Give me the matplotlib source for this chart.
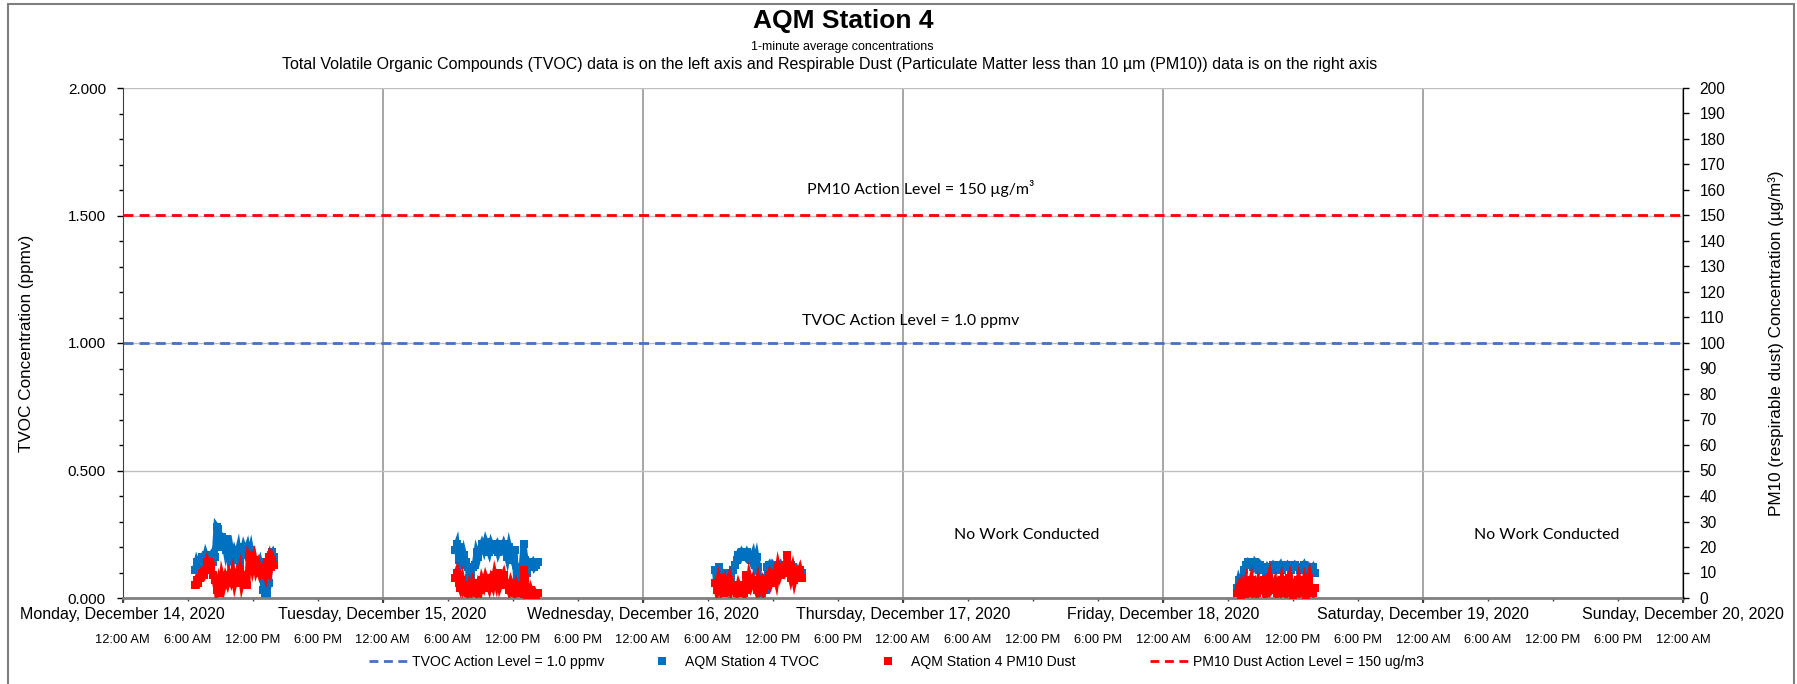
import matplotlib
matplotlib.use("Agg")
import matplotlib.pyplot as plt
from matplotlib.ticker import MultipleLocator, FixedLocator, FuncFormatter
from matplotlib.lines import Line2D
from matplotlib.patches import Rectangle

# ---- data ----
day_labels = ["Monday, December 14, 2020", "Tuesday, December 15, 2020",
              "Wednesday, December 16, 2020", "Thursday, December 17, 2020",
              "Friday, December 18, 2020", "Saturday, December 19, 2020",
              "Sunday, December 20, 2020"]
time_labels = ["12:00 AM", "6:00 AM", "12:00 PM", "6:00 PM"]

tvoc_action = 1.0     # ppmv
pm10_action = 150     # ug/m3

# 10-minute readings, one block per work day: (day index, start hour)
mon_start = (0, 6 + 40 / 60)
mon_tvoc = [0.11, 0.14, 0.12, 0.15, 0.16, 0.14, 0.17, 0.15, 0.16, 0.17, 0.14, 0.16,
            0.28, 0.27, 0.20, 0.24, 0.23, 0.19, 0.23, 0.16, 0.19, 0.15, 0.18, 0.16,
            0.19, 0.14, 0.17, 0.20, 0.18, 0.20, 0.16, 0.19, 0.15, 0.13, 0.14, 0.12,
            0.14, 0.11, 0.03, 0.00, 0.01, 0.06, 0.17, 0.18, 0.16]
mon_pm10 = [5, 7, 6, 8, 10, 9, 11, 14, 12, 13, 9, 7, 3, 6, 2, 8, 5, 8, 6, 9, 7, 10,
            6, 9, 8, 11, 6, 9, 8, 5, 17, 16, 12, 15, 11, 13, 10, 12, 11, 9, 14, 16,
            12, 15, 13]

tue_start = (1, 6 + 40 / 60)
tue_tvoc = [0.19, 0.21, 0.15, 0.20, 0.13, 0.17, 0.14, 0.12, 0.08, 0.09, 0.12, 0.13,
            0.18, 0.16, 0.19, 0.21, 0.19, 0.22, 0.20, 0.18, 0.21, 0.19, 0.20, 0.21,
            0.18, 0.20, 0.19, 0.21, 0.19, 0.16, 0.20, 0.17, 0.15, 0.19, 0.06, 0.00,
            0.03, 0.12, 0.21, 0.15, 0.10, 0.14, 0.13, 0.14, 0.12, 0.13, 0.14]
tue_pm10 = [8, 10, 6, 4, 7, 3, 4, 2, 5, 3, 6, 4, 2, 5, 3, 7, 5, 8, 6, 4, 7, 5, 9,
            6, 10, 5, 7, 9, 6, 5, 3, 6, 4, 2, 5, 3, 4, 2, 11, 8, 1, 0, 3, 1, 2, 0, 2]

wed_start = (2, 6 + 40 / 60)
wed_tvoc = [0.11, 0.03, 0.12, 0.06, 0.10, 0.09, 0.04, 0.10, 0.06, 0.08, 0.11, 0.13,
            0.15, 0.17, 0.16, 0.18, 0.17, 0.16, 0.18, 0.17, 0.15, 0.17, 0.13, 0.16,
            0.12, 0.02, 0.00, 0.08, 0.03, 0.12, 0.13, 0.11, 0.13, 0.12, 0.11, 0.12,
            0.13, 0.11, 0.12, 0.13, 0.12, 0.11, 0.13, 0.12, 0.10, 0.11, 0.09, 0.10,
            0.10]
wed_pm10 = [6, 3, 7, 4, 8, 2, 6, 4, 7, 3, 5, 4, 2, 5, 3, 4, 2, 9, 3, 8, 5, 7, 5, 3,
            7, 4, 6, 3, 5, 7, 9, 6, 8, 10, 7, 12, 9, 11, 10, 13, 17, 11, 8, 11, 7,
            10, 9, 11, 8]

fri_start = (4, 6 + 50 / 60)
fri_tvoc = [0.04, 0.07, 0.05, 0.08, 0.11, 0.13, 0.14, 0.13, 0.13, 0.12, 0.14, 0.13,
            0.11, 0.13, 0.12, 0.12, 0.10, 0.12, 0.11, 0.12, 0.13, 0.12, 0.11, 0.12,
            0.13, 0.11, 0.12, 0.12, 0.13, 0.12, 0.11, 0.12, 0.13, 0.12, 0.12, 0.11,
            0.12, 0.13, 0.11, 0.12, 0.10, 0.11, 0.12, 0.10]
fri_pm10 = [2, 4, 1, 5, 3, 6, 2, 4, 7, 3, 5, 2, 6, 4, 3, 7, 2, 5, 8, 3, 4, 6, 2, 5,
            3, 7, 4, 2, 6, 8, 3, 1, 5, 4, 7, 2, 3, 6, 1, 5, 8, 3, 2, 4]

work_days = [(mon_start, mon_tvoc, mon_pm10), (tue_start, tue_tvoc, tue_pm10),
             (wed_start, wed_tvoc, wed_pm10), (fri_start, fri_tvoc, fri_pm10)]
no_work_days = [3, 5]

# ---- style ----
ARIAL = ["Liberation Sans", "DejaVu Sans"]
CALIBRI = ["Lato", "DejaVu Sans"]
plt.rcParams["font.family"] = ARIAL
BLUE = "#0070C0"
RED = "#FF0000"
LINE_BLUE = "#4472C4"

W, H = 1797, 684
fig = plt.figure(figsize=(W / 100, H / 100), dpi=100)
fig.patch.set_facecolor("white")

x0, x1, ytop, ybot = 122.6, 1683, 88, 598
ax = fig.add_axes([x0 / W, 1 - ybot / H, (x1 - x0) / W, (ybot - ytop) / H])
ax2 = ax.twinx()

# data series: dense 1-minute markers in the original, so join the
# 10-minute readings with a thick trace to get the same solid look
for (day, start), tvoc, pm10 in work_days:
    xs = [day + (start + i / 6) / 24 for i in range(len(tvoc))]
    ax.plot(xs, tvoc, ls="-", lw=4.4, marker="s", ms=6, color=BLUE, mew=0,
            solid_joinstyle="miter")
    ax2.plot(xs[:len(pm10)], pm10, ls="-", lw=4.4, marker="s", ms=6, color=RED,
             mew=0, solid_joinstyle="miter")

ax.axhline(tvoc_action, color=LINE_BLUE, lw=2, dashes=(3.6, 2.2))
ax2.axhline(pm10_action, color=RED, lw=2, dashes=(3.6, 2.2))

# axes limits & ticks
ax.set_xlim(0, 6)
ax.set_ylim(0, 2)
ax2.set_ylim(0, 200)

ax.yaxis.set_major_locator(MultipleLocator(0.5))
ax.yaxis.set_minor_locator(MultipleLocator(0.1))
ax.yaxis.set_major_formatter(FuncFormatter(lambda v, p: f"{v:.3f}"))
ax2.yaxis.set_major_locator(MultipleLocator(10))
ax2.yaxis.set_major_formatter(FuncFormatter(lambda v, p: f"{v:.0f}"))

ax.xaxis.set_major_locator(FixedLocator(range(len(day_labels))))
ax.xaxis.set_major_formatter(FuncFormatter(lambda v, p: day_labels[int(round(v))]))
ax.xaxis.set_minor_locator(MultipleLocator(0.25))
ax.xaxis.remove_overlapping_locs = False
ax.xaxis.set_minor_formatter(
    FuncFormatter(lambda v, p: time_labels[int(round(v * 4)) % 4]))

ax.tick_params(axis="x", which="major", direction="out", length=3.6, width=1.5,
               color="#404040", pad=3.2, labelsize=11.5)
ax.tick_params(axis="x", which="minor", direction="out", length=2.2, width=1,
               color="#404040", pad=23.5, labelsize=9.3)
ax.tick_params(axis="y", which="major", direction="out", length=4, width=1,
               pad=8, labelsize=11)
ax.tick_params(axis="y", which="minor", direction="out", length=3, width=1)
ax2.tick_params(axis="y", which="major", direction="out", length=4, width=1,
                pad=8, labelsize=11.2)

# grid
ax.grid(axis="y", which="major", color="#BFBFBF", lw=1)
ax.grid(axis="x", which="major", color="#A6A6A6", lw=1.4)
ax.set_axisbelow(True)

for a in (ax, ax2):
    a.spines["top"].set_visible(False)
ax.spines["left"].set_color("#404040")
ax.spines["bottom"].set_color("#808080")
ax.spines["bottom"].set_linewidth(2)
ax2.spines["bottom"].set_visible(False)
ax2.spines["left"].set_visible(False)
ax2.spines["right"].set_color("#000000")

ax.set_ylabel("TVOC Concentration (ppmv)", fontsize=12.3)
ax2.set_ylabel("PM10 (respirable dust) Concentration (µg/m³)", fontsize=12.3)
ax.yaxis.set_label_coords(-0.0565, 0.5)
ax2.yaxis.set_label_coords(1.0545, 0.5)

# in-plot notes
ax.text(3.07, 1.606, "PM10 Action Level = 150 µg/m³", family=CALIBRI,
        fontsize=11.4, ha="center", va="center")
ax.text(3.03, 1.088, "TVOC Action Level = 1.0 ppmv", family=CALIBRI,
        fontsize=11.4, ha="center", va="center")
for d in no_work_days:
    ax.text(d + 0.475, 0.248, "No Work Conducted", family=CALIBRI, fontsize=11.4,
            ha="center", va="center")

# titles
fig.text(0.469, 1 - 21 / H, "AQM Station 4", fontsize=19, weight="bold",
         ha="center", va="center")
fig.text(0.469, 1 - 47 / H, "1-minute average concentrations", fontsize=9,
         ha="center", va="center")
fig.text(0.4615, 1 - 65 / H,
         "Total Volatile Organic Compounds (TVOC) data is on the left axis and "
         "Respirable Dust (Particulate Matter less than 10 µm (PM10)) data is on "
         "the right axis", fontsize=11.5, ha="center", va="center")

# legend: one entry per box so each sits where the original puts it
handles = [
    Line2D([], [], color=LINE_BLUE, lw=2, dashes=(3.2, 2.0)),
    Line2D([], [], ls="none", marker="s", ms=6, color=BLUE, mew=0),
    Line2D([], [], ls="none", marker="s", ms=6, color=RED, mew=0),
    Line2D([], [], color=RED, lw=2, dashes=(3.2, 2.0)),
]
labels = ["TVOC Action Level = 1.0 ppmv", "AQM Station 4 TVOC",
          "AQM Station 4 PM10 Dust", "PM10 Dust Action Level = 150 ug/m3"]
legend_x = [369, 642, 868, 1150]
for hd, lb, lx in zip(handles, labels, legend_x):
    fig.legend([hd], [lb], loc="center left",
               bbox_to_anchor=(lx / W, 1 - 662 / H), frameon=False,
               fontsize=10.1, handlelength=2.9, handletextpad=0.2,
               borderpad=0, borderaxespad=0)

# chart area border
fig.add_artist(Rectangle((8 / W, -0.05), (1794 - 8) / W, 1.05 - 4 / H,
                         transform=fig.transFigure, fill=False,
                         edgecolor="#7F7F7F", lw=1.5))

fig.savefig("out.png", dpi=100)
